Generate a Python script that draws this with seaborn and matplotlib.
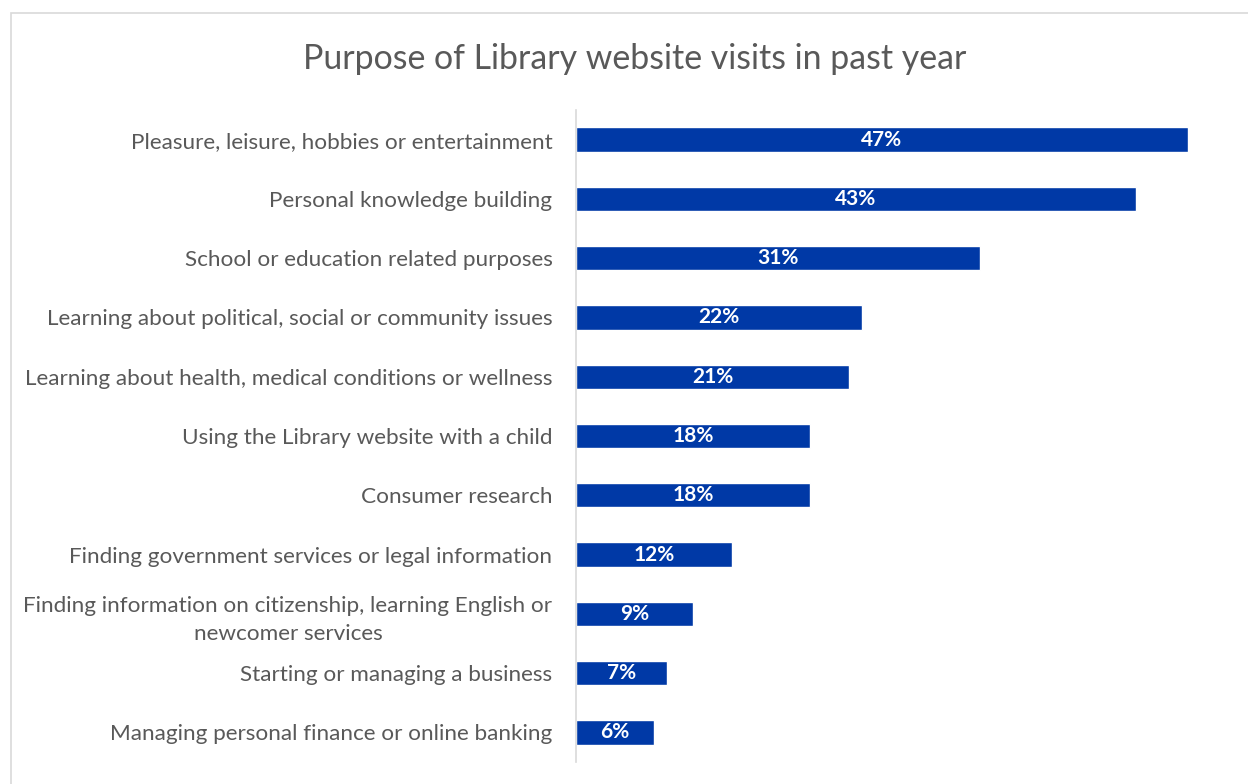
import matplotlib
matplotlib.use("Agg")
import matplotlib.pyplot as plt
import matplotlib.patches as mpatches
import seaborn as sns
import pandas as pd

categories = [
    "Pleasure, leisure, hobbies or entertainment",
    "Personal knowledge building",
    "School or education related purposes",
    "Learning about political, social or community issues",
    "Learning about health, medical conditions or wellness",
    "Using the Library website with a child",
    "Consumer research",
    "Finding government services or legal information",
    "Finding information on citizenship, learning English or\nnewcomer services",
    "Starting or managing a business",
    "Managing personal finance or online banking",
]
values = [47, 43, 31, 22, 21, 18, 18, 12, 9, 7, 6]
title = "Purpose of Library website visits in past year"

df = pd.DataFrame({"purpose": categories, "share": values})

sns.set_theme(style="white")
plt.rcParams["font.family"] = ["Lato", "DejaVu Sans"]

BAR = "#0039A6"
TEXT = "#595959"

fig = plt.figure(figsize=(12.48, 7.84), dpi=100)
ax = fig.add_axes([576 / 1248, 1 - 762 / 784, (1188 - 576) / 1248, (762 - 110) / 784])

sns.barplot(data=df, y="purpose", x="share", orient="h", color=BAR,
            width=0.41, saturation=1, ax=ax)

ax.set_xlim(0, 47)
ax.set_ylim(len(categories) - 0.5, -0.5)
ax.set_xlabel("")
ax.set_ylabel("")
ax.set_xticks([])
for side in ["top", "right", "bottom"]:
    ax.spines[side].set_visible(False)
ax.spines["left"].set_color("#D9D9D9")
ax.spines["left"].set_linewidth(1.2)
ax.tick_params(axis="y", length=0, pad=17, labelsize=16.2, labelcolor=TEXT)
for lbl in ax.get_yticklabels():
    lbl.set_multialignment("center")
    lbl.set_linespacing(1.5)

for container in ax.containers:
    ax.bar_label(container, labels=[f"{v}%" for v in values], label_type="center",
                 color="white", fontsize=15, fontweight="bold")

fig.text(635 / 1248, 1 - 59 / 784, title, ha="center", va="center",
         fontsize=24.4, color=TEXT)

# light chart-area frame
fig.patches.append(mpatches.Rectangle((11 / 1248, -0.1), 1.2, 1 - 13 / 784 + 0.1,
                                      transform=fig.transFigure, fill=False,
                                      edgecolor="#D9D9D9", linewidth=1.2, zorder=0))

fig.savefig("out.png", dpi=100)
